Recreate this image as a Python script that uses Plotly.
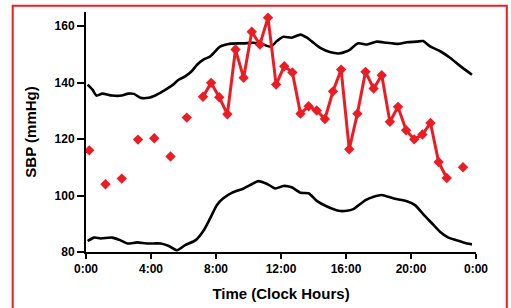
import plotly.graph_objects as go

# Red series: individual SBP readings (None = no reading at that half hour)
sbp_hours = [0.2, 0.7, 1.2, 1.7, 2.2, 2.7, 3.2, 3.7, 4.2, 4.7, 5.2, 5.7, 6.2, 6.7,
             7.2, 7.7, 8.2, 8.7, 9.2, 9.7, 10.2, 10.7, 11.2, 11.7, 12.2, 12.7,
             13.2, 13.7, 14.2, 14.7, 15.2, 15.7, 16.2, 16.7, 17.2, 17.7, 18.2,
             18.7, 19.2, 19.7, 20.2, 20.7, 21.2, 21.7, 22.2, 22.7, 23.2]
sbp_values = [116, None, 104, None, 106, None, 119.8, None, 120.3, None, 113.8, None, 127.6, None,
              135.0, 139.9, 134.8, 128.8, 151.7, 141.7, 158.0, 153.5, 163.0, 139.3, 145.8, 143.6,
              129.0, 131.6, 130.1, 127.1, 136.9, 144.6, 116.4, 129.0, 143.8, 137.9, 142.6,
              126.1, 131.4, 123.1, 119.9, 121.6, 125.7, 111.9, 106.2, None, 110.0]

# Upper black curve
upper_hours = [0.1, 0.4, 0.65, 1.0, 1.6, 2.2, 2.6, 2.95, 3.35, 3.85, 4.35, 4.9, 5.3, 5.7,
               6.1, 6.5, 6.85, 7.25, 7.65, 8.25, 8.9, 9.7, 10.3, 10.9, 11.35, 11.75,
               12.15, 12.65, 13.2, 13.6, 14.0, 14.5, 15.0, 15.55, 16.05, 16.25, 16.75,
               17.3, 17.9, 18.5, 19.15, 19.75, 20.35, 20.75, 21.15, 21.8, 22.4, 23.0, 23.75]
upper_values = [139.3, 137.5, 135.4, 136.1, 135.4, 135.4, 136.1, 136.0, 134.6, 134.6, 135.7,
                137.5, 139.0, 141.0, 142.2, 144.0, 146.4, 148.2, 149.3, 152.7, 153.8, 153.9,
                154.1, 153.5, 152.7, 154.7, 156.2, 155.9, 157.0, 155.9, 154.1, 152.0, 150.8,
                150.3, 151.1, 151.7, 153.9, 153.5, 154.5, 154.1, 153.7, 154.3, 154.5, 154.7,
                152.9, 151.1, 148.8, 146.0, 142.8]

# Lower black curve
lower_hours = [0.1, 0.5, 0.9, 1.6, 2.1, 2.55, 3.15, 3.75, 4.6, 5.1, 5.6, 6.1, 6.75, 7.25,
               7.65, 8.05, 8.45, 9.0, 9.7, 10.2, 10.6, 11.15, 11.65, 12.15, 12.65, 13.2,
               13.7, 14.2, 14.8, 15.55, 16.05, 16.45, 17.2, 17.7, 18.2, 18.9, 19.75, 20.25,
               20.75, 21.3, 21.8, 22.3, 22.8, 23.45, 23.75]
lower_values = [83.9, 85.1, 84.8, 85.1, 84.2, 83.0, 83.4, 83.0, 83.0, 82.1, 80.6, 82.4, 84.2,
                87.7, 92.0, 96.6, 99.0, 101.0, 102.5, 104.0, 105.1, 104.1, 102.5, 103.4, 102.9,
                101.0, 100.8, 98.1, 96.2, 94.6, 94.6, 95.2, 98.4, 99.6, 100.2, 99.0, 98.0, 96.6,
                93.4, 90.1, 87.1, 85.1, 84.2, 83.0, 82.7]

tick_vals = [0, 4, 8, 12, 16, 20, 24]
tick_text = ["0:00", "4:00", "8:00", "12:00", "16:00", "20:00", "0:00"]
y_ticks = [80, 100, 120, 140, 160]

RED = "#EC1C24"
FONT = "Liberation Sans, Arial, sans-serif"

fig = go.Figure()
fig.add_trace(go.Scatter(x=upper_hours, y=upper_values, mode="lines",
                         line=dict(color="black", width=2.6, shape="spline", smoothing=0.6),
                         showlegend=False, hoverinfo="skip"))
fig.add_trace(go.Scatter(x=lower_hours, y=lower_values, mode="lines",
                         line=dict(color="black", width=2.6, shape="spline", smoothing=0.6),
                         showlegend=False, hoverinfo="skip"))
fig.add_trace(go.Scatter(x=sbp_hours, y=sbp_values, mode="lines+markers",
                         connectgaps=False,
                         line=dict(color=RED, width=3),
                         marker=dict(symbol="diamond", size=8, color=RED),
                         showlegend=False))

fig.add_shape(type="rect", xref="paper", yref="paper",
              x0=-0.188, x1=1.079, y0=-0.26, y1=1.026,
              line=dict(color=RED, width=2), fillcolor="rgba(0,0,0,0)", layer="below")

fig.update_layout(
    width=511, height=308,
    margin=dict(l=85.5, r=35, t=12, b=56),
    paper_bgcolor="white", plot_bgcolor="white",
    font=dict(family=FONT, color="black"),
    xaxis=dict(range=[0, 24], tickvals=tick_vals, ticktext=tick_text,
               automargin=False,
               showline=True, linecolor="black", linewidth=2,
               ticks="outside", ticklen=5, tickwidth=2, tickcolor="black",
               showgrid=False, zeroline=False,
               tickfont=dict(size=12, family=FONT, weight="bold"),
               title=dict(text="Time (Clock Hours)", standoff=13,
                          font=dict(size=15, family=FONT, weight="bold"))),
    yaxis=dict(range=[80, 165], tickvals=y_ticks,
               automargin=False,
               showline=True, linecolor="black", linewidth=2,
               ticks="outside", ticklen=7, tickwidth=2, tickcolor="black",
               showgrid=False, zeroline=False,
               tickfont=dict(size=12, family=FONT, weight="bold"),
               title=dict(text="SBP (mmHg)", standoff=14,
                          font=dict(size=15, family=FONT, weight="bold"))),
)

fig.write_html("out.html",
               config={"displayModeBar": False},
               post_script="document.body.style.margin='0';document.body.style.overflow='hidden';")
